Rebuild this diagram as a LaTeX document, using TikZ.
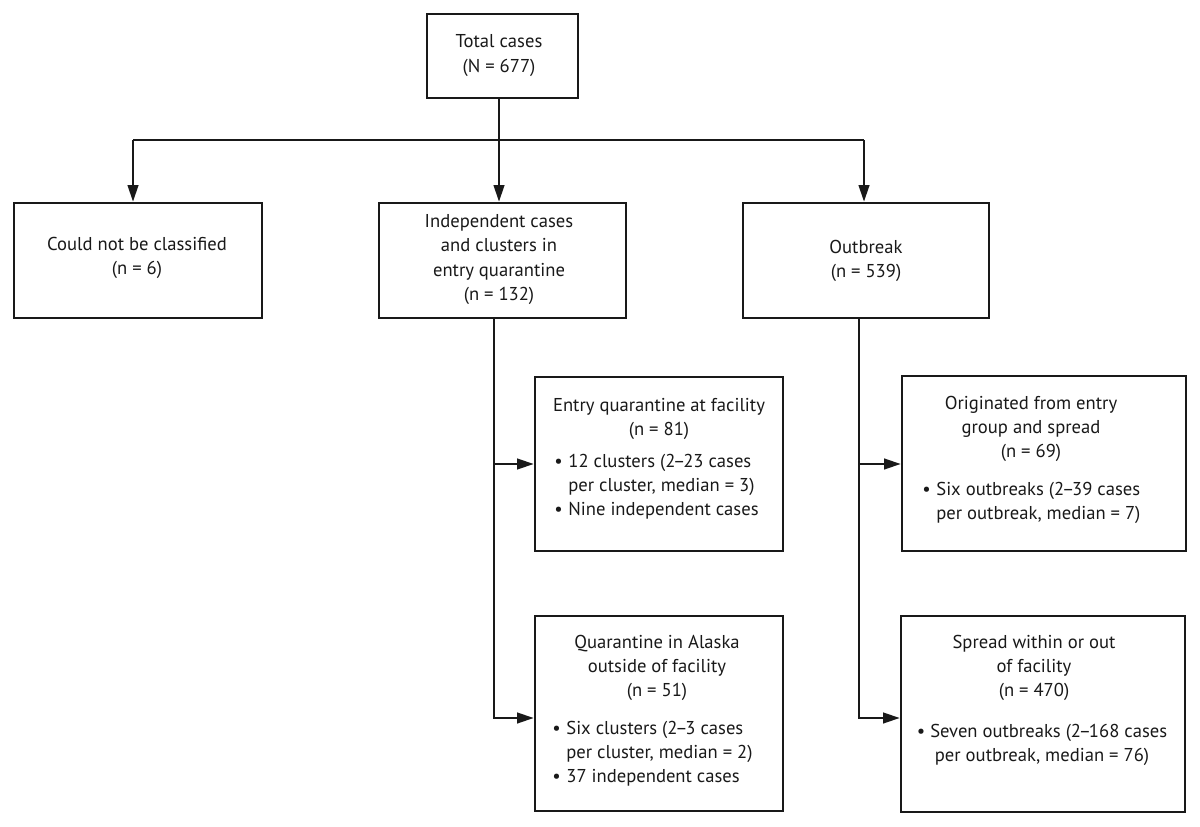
\documentclass[tikz,border=0pt]{standalone}
\usepackage{fontspec}
\setmainfont{PT Sans}
\usetikzlibrary{arrows.meta}
\newcommand\ndsh{\kern-0.12em–\kern-0.12em}
\begin{document}
\begin{tikzpicture}[x=0.02cm,y=-0.02cm,
  box/.style={draw=black!90, line width=1.4pt, rectangle, inner sep=0pt},
  txt/.style={font=\fontsize{10.6}{13.7}\selectfont, inner sep=0pt, text=black!90},
  conn/.style={draw=black!90, line width=1.4pt},
  arr/.style={conn, -{Triangle[length=9.5pt,width=6pt]}}]
\useasboundingbox (0,0) rectangle (1200,827);
% boxes
\node[box, minimum width=3.02cm, minimum height=1.68cm] (total) at (502.5,56) {};
\node[box, minimum width=4.96cm, minimum height=2.30cm] (cnc) at (138,260.5) {};
\node[box, minimum width=4.94cm, minimum height=2.30cm] (ind) at (502.5,260.5) {};
\node[box, minimum width=4.92cm, minimum height=2.30cm] (out) at (866,260.5) {};
\node[box, minimum width=4.96cm, minimum height=3.48cm] (eq) at (659,464) {};
\node[box, minimum width=4.96cm, minimum height=3.90cm] (qa) at (659,713.5) {};
\node[box, minimum width=5.68cm, minimum height=3.50cm] (orig) at (1044,463.5) {};
\node[box, minimum width=5.68cm, minimum height=3.92cm] (spr) at (1043,714) {};
% texts
\node[txt, align=center] (totalt) at (499,55.5) {Total cases\\(N = 677)};
\node[txt, align=center] (cnct) at (137,258) {Could not be classified\\(n = 6)};
\node[txt, align=center] (indt) at (499,259.5) {Independent cases\\and clusters in\\entry quarantine\\(n = 132)};
\node[txt, align=center] (outt) at (866,260.5) {Outbreak\\(n = 539)};
\node[txt, align=center] (eqh) at (659,419) {Entry quarantine at facility\\(n = 81)};
\node[txt, anchor=west] (eqb) at (554,487) {\begin{tabular}{@{}l@{\hspace{0.3em}}l@{}}• & 12 clusters (2\ndsh23 cases\\ & per cluster, median = 3)\\• & Nine independent cases\end{tabular}};
\node[txt, align=center] (qah) at (657,668) {Quarantine in Alaska\\outside of facility\\(n = 51)};
\node[txt, anchor=west] (qab) at (552,754) {\begin{tabular}{@{}l@{\hspace{0.3em}}l@{}}• & Six clusters (2\ndsh3 cases\\ & per cluster, median = 2)\\• & 37 independent cases\end{tabular}};
\node[txt, align=center] (origh) at (1031,428.5) {Originated from entry\\group and spread\\(n = 69)};
\node[txt, anchor=west] (origb) at (922,502.5) {\begin{tabular}{@{}l@{\hspace{0.3em}}l@{}}• & Six outbreaks (2\ndsh39 cases\\ & per outbreak, median = 7)\end{tabular}};
\node[txt, align=center] (sprh) at (1034,668) {Spread within or out\\of facility\\(n = 470)};
\node[txt, align=center] (sprb) at (1042,745) {• Seven outbreaks (2\ndsh168 cases\\per outbreak, median = 76)};
% connectors
\coordinate (jm) at (499,140);
\coordinate (jl) at (133,140);
\coordinate (jr) at (864,140);
\draw[conn] (total.south -| jm) -- (jm);
\draw[conn] (jl) -- (jr);
\draw[arr] (jl) -- (jl |- cnc.north);
\draw[arr] (jm) -- (jm |- ind.north);
\draw[arr] (jr) -- (jr |- out.north);
\coordinate (a1) at (494,464);
\coordinate (a2) at (494,718);
\draw[arr] (ind.south -| a2) -- (a2) -- (a2 -| qa.west);
\draw[arr] (a1) -- (a1 -| eq.west);
\coordinate (b1) at (859,464);
\coordinate (b2) at (859,718);
\draw[arr] (out.south -| b2) -- (b2) -- (b2 -| spr.west);
\draw[arr] (b1) -- (b1 -| orig.west);
\end{tikzpicture}
\end{document}
